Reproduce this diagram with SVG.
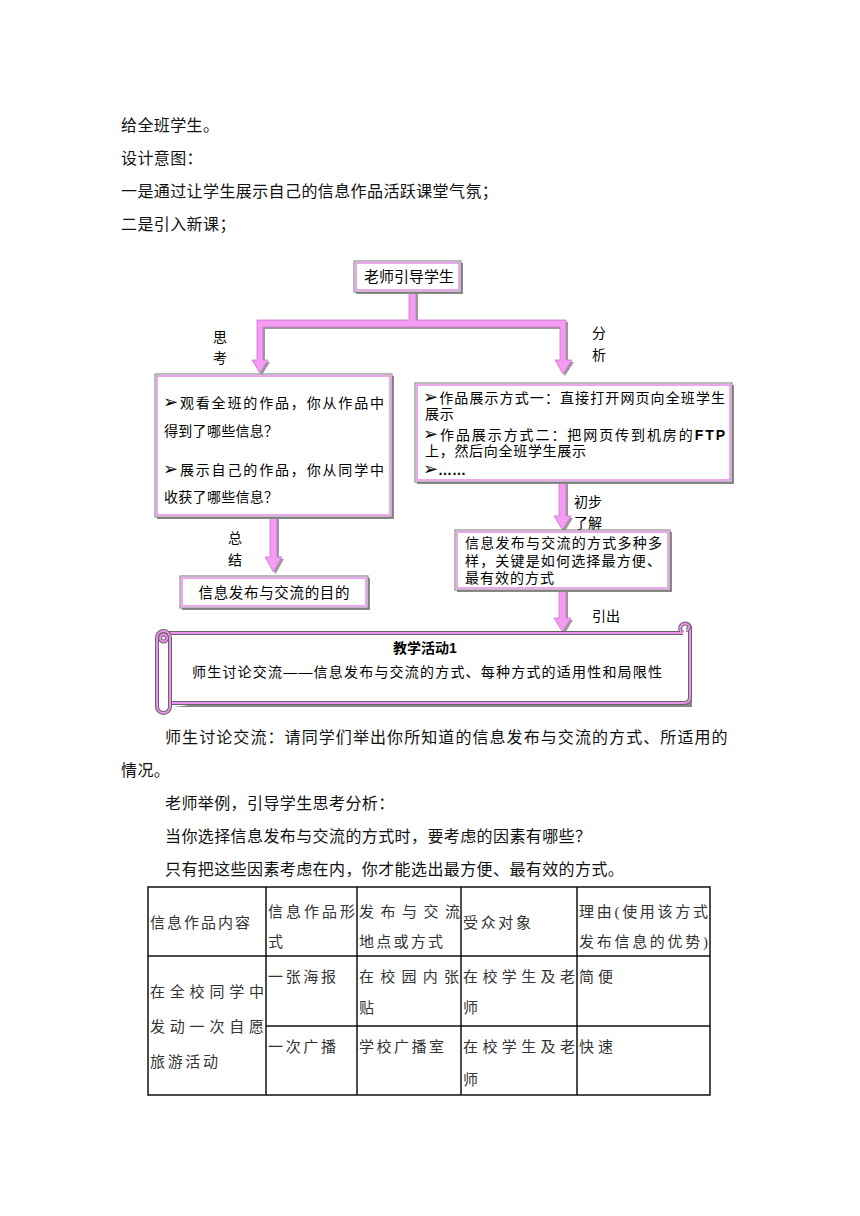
<svg xmlns="http://www.w3.org/2000/svg" width="860" height="1216" viewBox="0 0 860 1216">
<style>
.body{font-family:"Liberation Serif","Noto Sans CJK SC",serif;font-size:16px;fill:#111;letter-spacing:0.4px}
.fc{font-family:"Liberation Sans","Noto Sans CJK SC",sans-serif;fill:#000}
.ar{font-family:"DejaVu Sans",sans-serif;font-size:18px}
.lbl{font-family:"Liberation Sans","Noto Sans CJK SC",sans-serif;font-size:14px;fill:#000}
.tb{font-family:"Liberation Serif","Noto Sans CJK SC",serif;font-size:15px;fill:#333}
.sh{fill:#8a8a8a}
.bx{fill:#fff;stroke:#777;stroke-width:1}
.bi{fill:none;stroke:#e58be5;stroke-width:1.5}
.arr{fill:#f49cf4;stroke:#c874c8;stroke-width:0.8}
.arrsh{fill:#9a9a9a}
.tl{stroke:#111;stroke-width:1.5;fill:none}
.scr{fill:none;stroke:#666;stroke-width:4;stroke-linejoin:round}
.scp{fill:none;stroke:#ee90ee;stroke-width:2;stroke-linejoin:round}
</style>
<rect width="860" height="1216" fill="#fff"/>

<g id="intro">
<text class="body" x="121" y="131">给全班学生。</text>
<text class="body" x="121" y="164">设计意图：</text>
<text class="body" x="121" y="197">一是通过让学生展示自己的信息作品活跃课堂气氛；</text>
<text class="body" x="121" y="230">二是引入新课；</text>
</g>

<g id="connectors">
<g transform="translate(2,2)">
<polygon class="arrsh" points="409,292 416,292 416,320 566,320 566,360 572,360 563,374 555,360 560,360 560,327 263,327 263,360 268,360 260,373 252,360 257,360 257,320 409,320"/>
<polygon class="arrsh" points="270,517 277,517 277,557 282,557 273.5,572 265,557 270,557"/>
<polygon class="arrsh" points="559,482 566,482 566,516 571,516 562.5,530 554,516 559,516"/>
<polygon class="arrsh" points="559,590 566,590 566,618 571,618 562.5,632 554,618 559,618"/>
</g>
<polygon class="arr" points="409,292 416,292 416,320 566,320 566,360 572,360 563,374 555,360 560,360 560,327 263,327 263,360 268,360 260,373 252,360 257,360 257,320 409,320"/>
<polygon class="arr" points="270,517 277,517 277,557 282,557 273.5,572 265,557 270,557"/>
<polygon class="arr" points="559,482 566,482 566,516 571,516 562.5,530 554,516 559,516"/>
<polygon class="arr" points="559,590 566,590 566,618 571,618 562.5,632 554,618 559,618"/>
<text class="lbl" x="213" y="342">思</text>
<text class="lbl" x="213" y="363">考</text>
<text class="lbl" x="592" y="338">分</text>
<text class="lbl" x="592" y="360">析</text>
<text class="lbl" x="228" y="543">总</text>
<text class="lbl" x="228" y="565">结</text>
<text class="lbl" x="574" y="507">初步</text>
<text class="lbl" x="574" y="528">了解</text>
<text class="lbl" x="592" y="621">引出</text>
</g>

<g id="node-teacher">
<rect class="sh" x="356" y="263" width="107" height="31"/>
<rect class="bx" x="354" y="261" width="107" height="31"/>
<rect class="bi" x="356" y="263" width="103" height="27"/>
<text class="fc" x="409" y="282" font-size="15" text-anchor="middle">老师引导学生</text>
</g>

<g id="node-think">
<rect class="sh" x="157" y="376" width="237" height="143"/>
<rect class="bx" x="155" y="374" width="237" height="143"/>
<rect class="bi" x="157" y="376" width="233" height="139"/>
<text class="fc" font-size="14" x="163" y="408" textLength="221" lengthAdjust="spacing"><tspan class="ar">➢</tspan>观看全班的作品，你从作品中</text>
<text class="fc" font-size="14" x="164" y="436" letter-spacing="0.3">得到了哪些信息？</text>
<text class="fc" font-size="14" x="163" y="475" textLength="221" lengthAdjust="spacing"><tspan class="ar">➢</tspan>展示自己的作品，你从同学中</text>
<text class="fc" font-size="14" x="164" y="502" letter-spacing="0.3">收获了哪些信息？</text>
</g>

<g id="node-analyze">
<rect class="sh" x="417" y="385" width="317" height="99"/>
<rect class="bx" x="415" y="383" width="317" height="99"/>
<rect class="bi" x="417" y="385" width="313" height="95"/>
<text class="fc" font-size="14" x="423" y="403" textLength="302" lengthAdjust="spacing"><tspan class="ar">➢</tspan>作品展示方式一：直接打开网页向全班学生</text>
<text class="fc" font-size="14" x="425" y="419" letter-spacing="0.7">展示</text>
<text class="fc" font-size="14" x="423" y="440" textLength="302" lengthAdjust="spacing"><tspan class="ar">➢</tspan>作品展示方式二：把网页传到机房的<tspan font-weight="bold">FTP</tspan></text>
<text class="fc" font-size="14" x="425" y="456" letter-spacing="0.7">上，然后向全班学生展示</text>
<text class="fc" font-size="14" x="423" y="475"><tspan class="ar">➢</tspan><tspan font-weight="bold">……</tspan></text>
</g>

<g id="node-variety">
<rect class="sh" x="457" y="532" width="215" height="60"/>
<rect class="bx" x="455" y="530" width="215" height="60"/>
<rect class="bi" x="457" y="532" width="211" height="56"/>
<text class="fc" font-size="14" x="465" y="548" textLength="197" lengthAdjust="spacing">信息发布与交流的方式多种多</text>
<text class="fc" font-size="14" x="465" y="566" textLength="196" lengthAdjust="spacing">样，关键是如何选择最方便、</text>
<text class="fc" font-size="14" x="465" y="583" letter-spacing="1">最有效的方式</text>
</g>

<g id="node-purpose">
<rect class="sh" x="182" y="578" width="188" height="32"/>
<rect class="bx" x="180" y="576" width="188" height="32"/>
<rect class="bi" x="182" y="578" width="184" height="28"/>
<text class="fc" font-size="14.5" x="274" y="598" text-anchor="middle" textLength="151" lengthAdjust="spacing">信息发布与交流的目的</text>
</g>

<g id="node-activity">
<path d="M172,705 L690,705 L690,636 L686,636" fill="#888" stroke="none" transform="translate(2,2)"/>
<path d="M170,633 L684,633 L690,633 L690,697 Q690,703 684,703 L170,703 Z" fill="#fff"/>
<path class="scr" d="M163,633 L683,633 M683,633 A5,5 0 1 1 690,630 L690,697 Q690,703 684,703 L170,703"/>
<path class="scp" d="M163,633 L683,633 M683,633 A5,5 0 1 1 690,630 L690,697 Q690,703 684,703 L170,703"/>
<path class="scr" d="M686,624 A3,3 0 0 1 686,630"/>
<path class="scp" d="M686,624 A3,3 0 0 1 686,630"/>
<rect x="157" y="631" width="13" height="82" rx="6.5" fill="#fff"/>
<rect class="scr" x="157" y="631" width="13" height="82" rx="6.5"/>
<rect class="scp" x="157" y="631" width="13" height="82" rx="6.5"/>
<circle class="scr" cx="163.5" cy="638" r="3.5"/>
<circle class="scp" cx="163.5" cy="638" r="3.5"/>
<text class="fc" font-size="14" x="425" y="653" text-anchor="middle" font-weight="bold">教学活动1</text>
<text class="fc" font-size="14" x="427" y="677" text-anchor="middle" textLength="470" lengthAdjust="spacing">师生讨论交流——信息发布与交流的方式、每种方式的适用性和局限性</text>
</g>

<g id="discussion">
<text class="body" x="165" y="743" textLength="563" lengthAdjust="spacing">师生讨论交流：请同学们举出你所知道的信息发布与交流的方式、所适用的</text>
<text class="body" x="121" y="776">情况。</text>
<text class="body" x="165" y="809">老师举例，引导学生思考分析：</text>
<text class="body" x="165" y="842">当你选择信息发布与交流的方式时，要考虑的因素有哪些？</text>
<text class="body" x="165" y="875">只有把这些因素考虑在内，你才能选出最方便、最有效的方式。</text>
</g>

<g id="table">
<rect class="tl" x="148" y="887" width="562" height="208"/>
<line class="tl" x1="148" y1="956" x2="710" y2="956"/>
<line class="tl" x1="266" y1="1026" x2="710" y2="1026"/>
<line class="tl" x1="266" y1="887" x2="266" y2="1095"/>
<line class="tl" x1="357" y1="887" x2="357" y2="1095"/>
<line class="tl" x1="461" y1="887" x2="461" y2="1095"/>
<line class="tl" x1="577" y1="887" x2="577" y2="1095"/>
<text class="tb" x="150" y="928" textLength="100" lengthAdjust="spacing">信息作品内容</text>
<text class="tb" x="268" y="917" textLength="87" lengthAdjust="spacing">信息作品形</text>
<text class="tb" x="268" y="947">式</text>
<text class="tb" x="359" y="917" textLength="101" lengthAdjust="spacing">发布与交流</text>
<text class="tb" x="359" y="947" textLength="84" lengthAdjust="spacing">地点或方式</text>
<text class="tb" x="463" y="928" textLength="68" lengthAdjust="spacing">受众对象</text>
<text class="tb" x="579" y="917" textLength="129" lengthAdjust="spacing">理由(使用该方式</text>
<text class="tb" x="579" y="947" textLength="129" lengthAdjust="spacing">发布信息的优势)</text>
<text class="tb" x="150" y="997" textLength="114" lengthAdjust="spacing">在全校同学中</text>
<text class="tb" x="150" y="1032" textLength="114" lengthAdjust="spacing">发动一次自愿</text>
<text class="tb" x="150" y="1067" textLength="68" lengthAdjust="spacing">旅游活动</text>
<text class="tb" x="268" y="982" textLength="68" lengthAdjust="spacing">一张海报</text>
<text class="tb" x="359" y="982" textLength="100" lengthAdjust="spacing">在校园内张</text>
<text class="tb" x="359" y="1013">贴</text>
<text class="tb" x="463" y="982" textLength="112" lengthAdjust="spacing">在校学生及老</text>
<text class="tb" x="463" y="1013">师</text>
<text class="tb" x="579" y="982" textLength="34" lengthAdjust="spacing">简便</text>
<text class="tb" x="268" y="1052" textLength="68" lengthAdjust="spacing">一次广播</text>
<text class="tb" x="359" y="1052" textLength="85" lengthAdjust="spacing">学校广播室</text>
<text class="tb" x="463" y="1052" textLength="112" lengthAdjust="spacing">在校学生及老</text>
<text class="tb" x="463" y="1085">师</text>
<text class="tb" x="579" y="1052" textLength="34" lengthAdjust="spacing">快速</text>
</g>
</svg>
